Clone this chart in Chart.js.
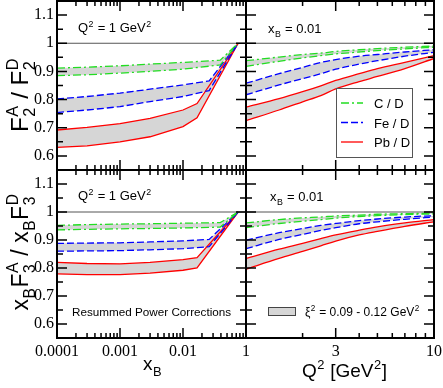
<!DOCTYPE html>
<html>
<head>
<meta charset="utf-8">
<script src="https://cdn.jsdelivr.net/npm/chart.js"></script>
<style>
  html, body { margin: 0; padding: 0; background: #fff; }
  #wrap { position: relative; width: 443px; height: 388px; overflow: hidden; }
  #wrap canvas { position: absolute; left: 0; top: 0; }
</style>
</head>
<body>
<div id="wrap">
  <canvas id="f2x" width="443" height="388"></canvas>
  <canvas id="f2q" width="443" height="388"></canvas>
  <canvas id="f3x" width="443" height="388"></canvas>
  <canvas id="f3q" width="443" height="388"></canvas>
</div>
<script>
// ---- data ----
// ratios vs x_B at Q^2 = 1 GeV^2 (each nucleus has its own kink point)
const xC  = [0.0001, 0.0003, 0.001, 0.003, 0.01, 0.039, 0.075];
const xFe = [0.0001, 0.0003, 0.001, 0.003, 0.01, 0.026, 0.075];
const xPb = [0.0001, 0.0003, 0.001, 0.003, 0.01, 0.0167, 0.075];

const f2xC_hi  = [0.912, 0.915, 0.920, 0.926, 0.932, 0.940, 1.0];
const f2xC_lo  = [0.885, 0.888, 0.894, 0.900, 0.908, 0.923, 1.0];
const f2xFe_hi = [0.802, 0.811, 0.823, 0.837, 0.852, 0.866, 1.0];
const f2xFe_lo = [0.754, 0.763, 0.775, 0.793, 0.811, 0.832, 1.0];
const f2xPb_hi = [0.692, 0.701, 0.715, 0.733, 0.763, 0.786, 1.0];
const f2xPb_lo = [0.630, 0.636, 0.650, 0.668, 0.704, 0.735, 1.0];

const f3xC_hi  = [0.952, 0.955, 0.957, 0.958, 0.960, 0.962, 1.0];
const f3xC_lo  = [0.936, 0.938, 0.940, 0.941, 0.943, 0.946, 1.0];
const f3xFe_hi = [0.888, 0.889, 0.890, 0.893, 0.897, 0.902, 1.0];
const f3xFe_lo = [0.860, 0.861, 0.862, 0.865, 0.869, 0.876, 1.0];
const f3xPb_hi = [0.820, 0.816, 0.815, 0.820, 0.830, 0.837, 1.0];
const f3xPb_lo = [0.779, 0.776, 0.776, 0.782, 0.792, 0.800, 1.0];

// ratios vs Q^2 at x_B = 0.01
const q2 = [1, 1.5, 2, 2.5, 3, 4, 5, 7, 10];

const f2qC_hi  = [0.938, 0.951, 0.960, 0.965, 0.971, 0.977, 0.981, 0.986, 0.990];
const f2qC_lo  = [0.918, 0.936, 0.948, 0.956, 0.962, 0.969, 0.974, 0.980, 0.986];
const f2qFe_hi = [0.858, 0.892, 0.914, 0.932, 0.942, 0.954, 0.960, 0.969, 0.977];
const f2qFe_lo = [0.817, 0.852, 0.874, 0.892, 0.908, 0.926, 0.938, 0.954, 0.968];
const f2qPb_hi = [0.773, 0.803, 0.828, 0.849, 0.868, 0.892, 0.910, 0.932, 0.956];
const f2qPb_lo = [0.725, 0.763, 0.792, 0.814, 0.838, 0.864, 0.882, 0.910, 0.946];

const f3qC_hi  = [0.961, 0.973, 0.979, 0.982, 0.986, 0.989, 0.992, 0.994, 0.996];
const f3qC_lo  = [0.944, 0.959, 0.967, 0.973, 0.978, 0.984, 0.987, 0.991, 0.993];
const f3qFe_hi = [0.899, 0.926, 0.941, 0.952, 0.959, 0.969, 0.975, 0.982, 0.987];
const f3qFe_lo = [0.869, 0.902, 0.920, 0.934, 0.944, 0.958, 0.965, 0.974, 0.982];
const f3qPb_hi = [0.834, 0.867, 0.888, 0.905, 0.918, 0.935, 0.947, 0.961, 0.973];
const f3qPb_lo = [0.796, 0.834, 0.859, 0.879, 0.896, 0.918, 0.931, 0.949, 0.965];

// tick labels
const yTickVals = [0.6, 0.7, 0.8, 0.9, 1.0, 1.1];
const yTickLabels = ['0.6', '0.7', '0.8', '0.9', '1', '1.1'];
const xbTickVals = [0.0001, 0.001, 0.01];
const xbTickLabels = ['0.0001', '0.001', '0.01'];
const q2TickVals = [1, 3, 10];
const q2TickLabels = ['1', '3', '10'];

const legendNames = ['C / D', 'Fe / D', 'Pb / D'];

// ---- styles ----
const SANS = '"Liberation Sans", Arial, sans-serif';
const SERIF = '"Liberation Serif", "Times New Roman", serif';
const GRAY = '#d6d6d6';
const COLORS = ['#22dd22', '#0000ff', '#ff0000'];
const DASHES = [[8, 3, 2, 3], [7, 3], []];

// minor tick positions
function logMinors(lo, hi) {
    const out = [];
    for (let d = lo; d < hi; d *= 10) {
        for (let k = 2; k <= 9; k++) out.push(d * k);
    }
    return out;
}

// text with sub/superscripts: strings are normal, {b, p} stacked sub/sup
function drawRich(ctx, parts, x, y, size, align) {
    const small = size * 0.68;
    const big = `${size}px ${SANS}`;
    const sm = `${small}px ${SANS}`;
    const widths = parts.map(p => {
        if (typeof p === 'string') { ctx.font = big; return ctx.measureText(p).width; }
        ctx.font = sm;
        return Math.max(p.b ? ctx.measureText(p.b).width : 0, p.p ? ctx.measureText(p.p).width : 0) + 1;
    });
    const total = widths.reduce((a, b) => a + b, 0);
    let cx = align === 'center' ? x - total / 2 : x;
    ctx.textBaseline = 'alphabetic';
    ctx.textAlign = 'left';
    parts.forEach((p, i) => {
        if (typeof p === 'string') {
            ctx.font = big;
            ctx.fillText(p, cx, y);
        } else {
            ctx.font = sm;
            if (p.b) ctx.fillText(p.b, cx + 0.5, y + size * 0.3);
            if (p.p) ctx.fillText(p.p, cx + 0.5, y - size * 0.42);
        }
        cx += widths[i];
    });
}

const frameTicks = {
    id: 'frameTicks',
    afterDatasetsDraw(chart, args, o) {
        const { ctx, chartArea: a, scales: { x, y } } = chart;
        ctx.save();
        ctx.strokeStyle = '#000';
        ctx.lineWidth = 1.5;
        ctx.beginPath();
        const vt = (v, len) => {
            const px = x.getPixelForValue(v);
            ctx.moveTo(px, a.bottom); ctx.lineTo(px, a.bottom - len);
            ctx.moveTo(px, a.top); ctx.lineTo(px, a.top + len);
        };
        const ht = (v, len) => {
            const py = y.getPixelForValue(v);
            ctx.moveTo(a.left, py); ctx.lineTo(a.left + len, py);
            ctx.moveTo(a.right, py); ctx.lineTo(a.right - len, py);
        };
        o.xMajor.forEach(v => vt(v, 10));
        o.xMinor.forEach(v => vt(v, 5));
        o.yMajor.forEach(v => ht(v, 10));
        o.yMinor.forEach(v => ht(v, 6));
        ctx.stroke();
        ctx.lineWidth = 2;
        ctx.strokeRect(a.left, a.top, a.width, a.height);
        ctx.restore();
    }
};

const texts = {
    id: 'texts',
    afterDraw(chart, args, o) {
        const ctx = chart.ctx;
        ctx.save();
        ctx.fillStyle = '#000';
        (o.items || []).forEach(t => {
            if (t.rot) {
                ctx.save();
                ctx.translate(t.x, t.y);
                ctx.rotate(-Math.PI / 2);
                drawRich(ctx, t.parts, 0, 0, t.size, 'center');
                ctx.restore();
            } else {
                drawRich(ctx, t.parts, t.x, t.y, t.size, 'left');
            }
        });
        if (o.legend) {
            const L = o.legend;
            ctx.strokeStyle = '#555';
            ctx.lineWidth = 1;
            ctx.strokeRect(L.x + 0.5, L.y + 0.5, L.w, L.h);
            legendNames.forEach((name, i) => {
                const ly = L.y + 15 + i * 19.5;
                ctx.strokeStyle = COLORS[i];
                ctx.lineWidth = 1.3;
                ctx.setLineDash(DASHES[i]);
                ctx.beginPath();
                ctx.moveTo(L.x + 5, ly); ctx.lineTo(L.x + 27, ly);
                ctx.stroke();
                ctx.setLineDash([]);
                drawRich(ctx, [name], L.x + 38, ly + 5, 13, 'left');
            });
        }
        if (o.band) {
            const B = o.band;
            ctx.fillStyle = GRAY;
            ctx.fillRect(B.x, B.y, B.w, B.h);
            ctx.strokeStyle = '#444';
            ctx.lineWidth = 1;
            ctx.strokeRect(B.x + 0.5, B.y + 0.5, B.w, B.h);
            ctx.fillStyle = '#000';
            drawRich(ctx, B.parts, B.x + B.w + 10, B.y + 9, 12, 'left');
        }
        ctx.restore();
    }
};

function bandSets(xs, hi, lo, i, smooth) {
    const pts = arr => xs.map((x, k) => ({ x: x, y: arr[k] }));
    const base = {
        borderColor: COLORS[i], borderDash: DASHES[i], borderWidth: 1.3,
        pointRadius: 0, tension: 0
    };
    if (smooth) base.cubicInterpolationMode = 'monotone';
    return [
        { ...base, label: legendNames[i], data: pts(hi), fill: false },
        { ...base, label: legendNames[i], data: pts(lo), fill: '-1', backgroundColor: GRAY }
    ];
}

function panel(id, cfg) {
    const unity = {
        data: [{ x: cfg.xMin, y: 1 }, { x: cfg.xMax, y: 1 }],
        borderColor: '#555', borderWidth: 1, pointRadius: 0, fill: false
    };
    return new Chart(document.getElementById(id), {
        type: 'line',
        data: { datasets: [unity].concat(cfg.sets) },
        options: {
            responsive: false,
            animation: false,
            devicePixelRatio: 1,
            layout: { padding: cfg.pad },
            plugins: {
                legend: { display: false },
                tooltip: { enabled: false },
                filler: { drawTime: 'beforeDatasetsDraw' },
                frameTicks: {
                    xMajor: cfg.xMajor, xMinor: cfg.xMinor,
                    yMajor: yTickVals, yMinor: [0.55, 0.65, 0.75, 0.85, 0.95, 1.05, 1.15]
                },
                texts: { items: cfg.texts, legend: cfg.legend, band: cfg.band }
            },
            scales: {
                x: {
                    type: 'logarithmic', min: cfg.xMin, max: cfg.xMax,
                    display: cfg.showX,
                    grid: { display: false, drawTicks: false },
                    border: { display: false },
                    ticks: {
                        autoSkip: false, maxRotation: 0, padding: 4, color: '#000',
                        font: { family: SERIF, size: 16 },
                        callback: (v, k) => cfg.xLabels[k]
                    },
                    afterBuildTicks: s => { s.ticks = cfg.xTicks.map(v => ({ value: v })); },
                    afterFit: s => {
                        if (cfg.showX) s.height = 30;
                        s.paddingLeft = 0; s.paddingRight = 0;
                    }
                },
                y: {
                    min: 0.55, max: 1.15,
                    display: cfg.showY,
                    grid: { display: false, drawTicks: false },
                    border: { display: false },
                    ticks: {
                        autoSkip: false, padding: 3, color: '#000',
                        font: { family: SERIF, size: 16 },
                        callback: (v, k) => yTickLabels[k]
                    },
                    afterBuildTicks: s => { s.ticks = yTickVals.map(v => ({ value: v })); },
                    afterFit: s => {
                        if (cfg.showY) s.width = 40;
                        s.paddingTop = 0; s.paddingBottom = 0;
                    }
                }
            }
        },
        plugins: [frameTicks, texts]
    });
}

const xbCfg = {
    xMin: 0.0001, xMax: 0.1,
    xTicks: xbTickVals, xLabels: xbTickLabels,
    xMajor: [0.0001, 0.001, 0.01, 0.1], xMinor: logMinors(0.0001, 0.1)
};
const q2Cfg = {
    xMin: 1, xMax: 10,
    xTicks: q2TickVals, xLabels: q2TickLabels,
    xMajor: [1, 3, 10], xMinor: [2, 4, 5, 6, 7, 8, 9]
};
const Q2LABEL = ['Q', { p: '2' }, ' = 1 GeV', { p: '2' }];
const XBLABEL = ['x', { b: 'B' }, ' = 0.01'];

panel('f2x', {
    ...xbCfg, showX: false, showY: true,
    pad: { left: 17, right: 197, top: 1, bottom: 218 },
    sets: [].concat(
        bandSets(xC, f2xC_hi, f2xC_lo, 0, false),
        bandSets(xFe, f2xFe_hi, f2xFe_lo, 1, false),
        bandSets(xPb, f2xPb_hi, f2xPb_lo, 2, false)),
    texts: [
        { parts: Q2LABEL, x: 78, y: 32, size: 13 },
        { parts: ['F', { b: '2', p: 'A' }, ' / F', { b: '2', p: 'D' }], x: 28, y: 95, size: 24, rot: true }
    ]
});

panel('f2q', {
    ...q2Cfg, showX: false, showY: false,
    pad: { left: 246, right: 9, top: 1, bottom: 218 },
    sets: [].concat(
        bandSets(q2, f2qC_hi, f2qC_lo, 0, true),
        bandSets(q2, f2qFe_hi, f2qFe_lo, 1, true),
        bandSets(q2, f2qPb_hi, f2qPb_lo, 2, true)),
    texts: [{ parts: XBLABEL, x: 268, y: 33, size: 13 }],
    legend: { x: 336, y: 88, w: 76, h: 69 }
});

panel('f3x', {
    ...xbCfg, showX: true, showY: true,
    pad: { left: 17, right: 197, top: 170, bottom: 20 },
    sets: [].concat(
        bandSets(xC, f3xC_hi, f3xC_lo, 0, false),
        bandSets(xFe, f3xFe_hi, f3xFe_lo, 1, false),
        bandSets(xPb, f3xPb_hi, f3xPb_lo, 2, false)),
    texts: [
        { parts: Q2LABEL, x: 78, y: 200, size: 13 },
        { parts: ['Resummed Power Corrections'], x: 72, y: 316, size: 11.7 },
        { parts: ['x', { b: 'B' }, 'F', { b: '3', p: 'A' }, ' / x', { b: 'B' }, 'F', { b: '3', p: 'D' }], x: 28, y: 252, size: 23, rot: true },
        { parts: ['x', { b: 'B' }], x: 143, y: 370, size: 19 }
    ]
});

panel('f3q', {
    ...q2Cfg, showX: true, showY: false,
    pad: { left: 246, right: 9, top: 170, bottom: 20 },
    sets: [].concat(
        bandSets(q2, f3qC_hi, f3qC_lo, 0, true),
        bandSets(q2, f3qFe_hi, f3qFe_lo, 1, true),
        bandSets(q2, f3qPb_hi, f3qPb_lo, 2, true)),
    texts: [
        { parts: XBLABEL, x: 270, y: 201, size: 13 },
        { parts: ['Q', { p: '2' }, ' [GeV', { p: '2' }, ']'], x: 302, y: 377, size: 19 }
    ],
    band: { x: 268, y: 307, w: 27, h: 8, parts: ['\u03be', { p: '2' }, ' = 0.09 - 0.12 GeV', { p: '2' }] }
});
</script>
</body>
</html>
